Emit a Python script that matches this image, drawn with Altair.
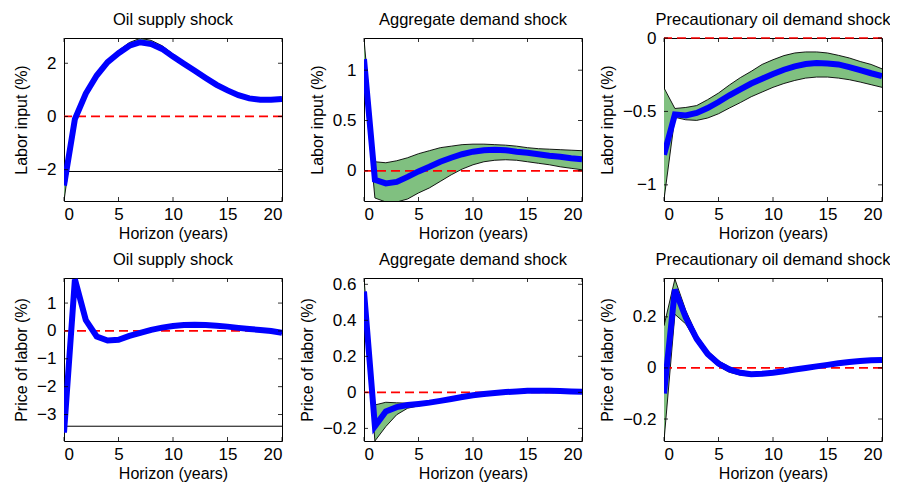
import altair as alt
import pandas as pd

H = list(range(21))

# Panel data: mid (blue), lo/hi (band)
li_os_mid = [-2.6, -0.1, 0.86, 1.54, 2.04, 2.38, 2.66, 2.79, 2.72, 2.54, 2.25, 1.98, 1.72, 1.45, 1.19, 0.98, 0.80, 0.68, 0.63, 0.63, 0.66]
li_os_hi = [-2.45, 0.0, 0.91, 1.6, 2.12, 2.48, 2.78, 2.94, 2.86, 2.66, 2.35, 2.06, 1.78, 1.5, 1.23, 1.01, 0.83, 0.71, 0.66, 0.66, 0.69]
li_os_lo = [-3.18, -0.2, 0.81, 1.49, 1.99, 2.33, 2.61, 2.74, 2.67, 2.49, 2.2, 1.93, 1.67, 1.4, 1.14, 0.93, 0.75, 0.63, 0.58, 0.58, 0.61]
li_os_flat = -2.07

li_ad_mid = [1.11, -0.09, -0.125, -0.11, -0.06, -0.006, 0.04, 0.09, 0.13, 0.165, 0.19, 0.205, 0.21, 0.205, 0.19, 0.18, 0.165, 0.15, 0.14, 0.125, 0.115]
li_ad_hi = [1.31, 0.09, 0.08, 0.1, 0.13, 0.17, 0.2, 0.23, 0.245, 0.26, 0.265, 0.265, 0.26, 0.255, 0.245, 0.23, 0.22, 0.215, 0.21, 0.205, 0.2]
li_ad_lo = [0.9, -0.27, -0.31, -0.31, -0.28, -0.22, -0.17, -0.105, -0.04, 0.017, 0.06, 0.09, 0.105, 0.11, 0.105, 0.09, 0.075, 0.06, 0.04, 0.025, 0.01]

li_pd_mid = [-0.795, -0.52, -0.527, -0.51, -0.477, -0.436, -0.39, -0.35, -0.31, -0.277, -0.245, -0.216, -0.193, -0.177, -0.17, -0.173, -0.18, -0.198, -0.218, -0.24, -0.26]
li_pd_hi = [-0.34, -0.48, -0.473, -0.46, -0.42, -0.375, -0.32, -0.27, -0.227, -0.18, -0.148, -0.12, -0.102, -0.095, -0.095, -0.102, -0.118, -0.136, -0.16, -0.18, -0.21]
li_pd_lo = [-1.10, -0.54, -0.557, -0.561, -0.545, -0.516, -0.477, -0.44, -0.40, -0.368, -0.336, -0.31, -0.289, -0.273, -0.266, -0.266, -0.273, -0.284, -0.3, -0.318, -0.336]

pl_os_mid = [-3.65, 1.85, 0.39, -0.2, -0.345, -0.32, -0.18, -0.07, 0.04, 0.12, 0.18, 0.21, 0.225, 0.21, 0.19, 0.155, 0.11, 0.07, 0.035, 0.0, -0.07]
pl_os_hi = [-3.6, 1.88, 0.42, -0.17, -0.315, -0.29, -0.15, -0.04, 0.07, 0.15, 0.21, 0.24, 0.255, 0.24, 0.22, 0.185, 0.14, 0.1, 0.065, 0.03, -0.04]
pl_os_lo = [-3.9, 1.82, 0.36, -0.23, -0.375, -0.35, -0.21, -0.1, 0.01, 0.09, 0.15, 0.18, 0.195, 0.18, 0.16, 0.125, 0.08, 0.04, 0.005, -0.03, -0.1]
pl_os_flat = -3.42

pl_ad_mid = [0.56, -0.188, -0.106, -0.082, -0.07, -0.064, -0.057, -0.047, -0.037, -0.026, -0.016, -0.009, -0.004, 0.002, 0.005, 0.009, 0.009, 0.009, 0.007, 0.005, 0.004]
pl_ad_hi = [0.63, -0.07, -0.055, -0.058, -0.06, -0.058, -0.053, -0.045, -0.035, -0.024, -0.014, -0.007, -0.002, 0.004, 0.007, 0.011, 0.011, 0.011, 0.009, 0.007, 0.006]
pl_ad_lo = [0.5, -0.27, -0.19, -0.124, -0.088, -0.075, -0.063, -0.051, -0.04, -0.029, -0.019, -0.012, -0.007, 0.0, 0.003, 0.007, 0.007, 0.007, 0.005, 0.003, 0.002]

pl_pd_mid = [-0.1, 0.307, 0.197, 0.114, 0.055, 0.017, -0.006, -0.019, -0.025, -0.023, -0.019, -0.013, -0.006, 0.0, 0.006, 0.012, 0.018, 0.023, 0.027, 0.03, 0.031]
pl_pd_hi = [0.165, 0.348, 0.225, 0.13, 0.068, 0.028, 0.004, -0.01, -0.018, -0.018, -0.015, -0.01, -0.004, 0.002, 0.008, 0.014, 0.02, 0.025, 0.029, 0.032, 0.033]
pl_pd_lo = [-0.286, 0.21, 0.172, 0.1, 0.043, 0.006, -0.017, -0.028, -0.032, -0.029, -0.023, -0.016, -0.008, -0.002, 0.004, 0.01, 0.016, 0.021, 0.025, 0.028, 0.029]

titles = ["Oil supply shock", "Aggregate demand shock", "Precautionary oil demand shock"]
ytitles = ["Labor input (%)", "Price of labor (%)"]
x_ticks = [0, 5, 10, 15, 20]

W, HT = 218, 163
FONT = "Liberation Sans"
GREEN = "#80c080"


def panel(mid, lo, hi, title, ytitle, domain, yticks, flat=None):
    df = pd.DataFrame({"h": H, "mid": mid, "lo": lo, "hi": hi})
    xax = alt.Axis(values=x_ticks, title="Horizon (years)", grid=False, ticks=False,
                   domain=False, labelPadding=5, titlePadding=3, format="~g")
    yax = alt.Axis(values=yticks, title=ytitle, grid=False, ticks=False, domain=False,
                   labelPadding=8, titlePadding=7, format="~g")
    xs = alt.Scale(domain=[0, 20], nice=False, zero=False)
    ys = alt.Scale(domain=domain, nice=False, zero=False)

    def X(f="h"):
        return alt.X(f + ":Q", scale=xs, axis=xax)

    def Y(f):
        return alt.Y(f + ":Q", scale=ys, axis=yax)

    base = alt.Chart(df)
    layers = [
        base.mark_area(color=GREEN, opacity=1, clip=True).encode(x=X(), y=Y("lo"), y2="hi:Q"),
        base.mark_line(color="black", strokeWidth=0.9, clip=True).encode(x=X(), y=Y("hi")),
        base.mark_line(color="black", strokeWidth=0.9, clip=True).encode(x=X(), y=Y("lo")),
    ]
    if flat is not None:
        layers.append(alt.Chart(pd.DataFrame({"v": [flat]})).mark_rule(color="black", strokeWidth=1)
                      .encode(y=Y("v")))
    layers.append(alt.Chart(pd.DataFrame({"z": [0]})).mark_rule(color="#ff0000", strokeWidth=1.7,
                                                               strokeDash=[9, 5])
                  .encode(y=Y("z")))
    layers.append(base.mark_line(color="#0000ff", strokeWidth=6, clip=True).encode(x=X(), y=Y("mid")))
    xt = alt.Chart(pd.DataFrame({"t": x_ticks}))
    yt = alt.Chart(pd.DataFrame({"t": yticks}))
    layers += [
        xt.mark_rule(color="black", strokeWidth=0.8).encode(x=X("t"), y=alt.value(HT), y2=alt.value(HT - 4)),
        xt.mark_rule(color="black", strokeWidth=0.8).encode(x=X("t"), y=alt.value(0), y2=alt.value(4)),
        yt.mark_rule(color="black", strokeWidth=0.8).encode(y=Y("t"), x=alt.value(0), x2=alt.value(4)),
        yt.mark_rule(color="black", strokeWidth=0.8).encode(y=Y("t"), x=alt.value(W), x2=alt.value(W - 4)),
    ]
    layers.append(
        alt.Chart(pd.DataFrame({"title": [title]})).mark_text(
            font=FONT, fontSize=16.5, color="black", align="center", baseline="alphabetic"
        ).encode(text="title:N", x=alt.value(W / 2), y=alt.value(-13))
    )
    return alt.layer(*layers).properties(
        width=W, height=HT,
        view=alt.ViewBackground(stroke="black", strokeWidth=1, fill="white"),
    )


charts = [
    panel(li_os_mid, li_os_lo, li_os_hi, titles[0], ytitles[0], [-3.18, 2.95], [-2, 0, 2], li_os_flat),
    panel(li_ad_mid, li_ad_lo, li_ad_hi, titles[1], ytitles[0], [-0.3, 1.32], [0, 0.5, 1]),
    panel(li_pd_mid, li_pd_lo, li_pd_hi, titles[2], ytitles[0], [-1.11, 0.0], [-1, -0.5, 0]),
    panel(pl_os_mid, pl_os_lo, pl_os_hi, titles[0], ytitles[1], [-3.95, 1.9], [-3, -2, -1, 0, 1], pl_os_flat),
    panel(pl_ad_mid, pl_ad_lo, pl_ad_hi, titles[1], ytitles[1], [-0.27, 0.635], [-0.2, 0, 0.2, 0.4, 0.6]),
    panel(pl_pd_mid, pl_pd_lo, pl_pd_hi, titles[2], ytitles[1], [-0.286, 0.352], [-0.2, 0, 0.2]),
]

chart = alt.concat(
    *charts, columns=3, spacing={"row": 77, "column": 82}, bounds="flush",
    padding={"top": 3, "left": 5, "right": -1, "bottom": 0},
).configure(
    background="white"
).configure_view(
    stroke="black", strokeWidth=1
).configure_axis(
    labelFont=FONT, titleFont=FONT, labelFontSize=17, titleFontSize=16, labelColor="black",
    titleColor="black", titleFontWeight="normal"
)

chart.save("out.html", embed_options={"renderer": "svg", "actions": False})
